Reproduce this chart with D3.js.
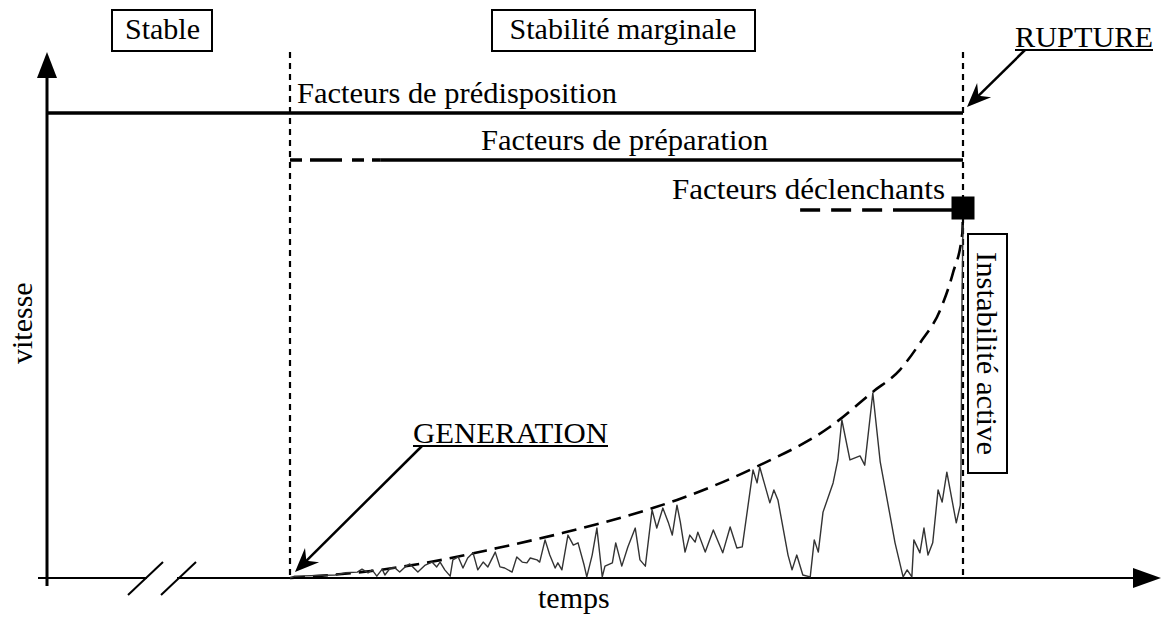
<!DOCTYPE html>
<html>
<head>
<meta charset="utf-8">
<script src="https://cdn.jsdelivr.net/npm/d3@7"></script>
<style>
  html, body { margin: 0; background: #fff; }
  svg { display: block; font-family: "Liberation Serif", "Times New Roman", serif; }
</style>
</head>
<body>
<div id="chart"></div>
<script>
// phases (boxed labels)
const phases = ["Stable", "Stabilité marginale", "Instabilité active"];

// factor bars: time span, and part drawn dashed (time units, 0 = génération, 100 = rupture)
const factors = [
  { label: "Facteurs de prédisposition", start: -36.1, end: 100, dashedTo: null },
  { label: "Facteurs de préparation", start: 0, end: 100, dashedTo: 13.4 },
  { label: "Facteurs déclenchants", start: 75.8, end: 100, dashedTo: 89.6 },
];

const events = ["GENERATION", "RUPTURE"];
const axisLabels = { x: "temps", y: "vitesse" };

// envelope (dashed curve) : [temps, vitesse]
const envelope = [
  [0, 0], [13.4, 2.2], [20.8, 4.3], [30.8, 8.1], [40.6, 12.2], [53.9, 18.9],
  [57.5, 21.1], [69.8, 30.5], [80.2, 40.8], [86.6, 50.3], [90.6, 56.2],
  [93.6, 63.5], [96.6, 72.4], [98.5, 82.4], [99.9, 93.2], [100, 100],
];

// measured velocity (jagged line) : [temps, vitesse]
const velocity = [
  [0, 0], [0.7, 0.5], [6.7, 0.8], [8.2, 1.4], [10.0, 1.6], [10.7, 2.4], [11.6, 1.4],
  [12.2, 2.2], [12.9, 0.5], [13.7, 2.4], [14.1, 0.8], [14.9, 2.7], [15.6, 2.7],
  [16.3, 1.6], [17.1, 3.0], [17.8, 3.8], [19.0, 1.6], [20.1, 3.5], [21.1, 4.3],
  [21.8, 3.0], [22.3, 4.3], [23.0, 2.2], [23.8, 0.5], [24.2, 4.9], [25.0, 5.7],
  [25.7, 2.7], [26.4, 5.4], [27.2, 6.8], [27.9, 2.2], [28.7, 4.3], [29.4, 3.0],
  [30.5, 7.0], [31.2, 3.0], [31.9, 2.7], [33.0, 1.6], [33.7, 5.7], [34.5, 4.3],
  [35.2, 4.1], [35.7, 5.4], [36.7, 4.9], [37.1, 4.3], [37.9, 10.3], [38.6, 6.2],
  [39.4, 2.7], [39.8, 4.1], [40.4, 2.2], [41.3, 11.6], [42.1, 8.9], [42.8, 9.5],
  [43.7, 3.5], [44.1, 0.3], [44.9, 6.2], [45.6, 13.5], [46.4, 0.3], [46.8, 3.2],
  [47.9, 4.1], [48.4, 9.5], [49.3, 3.2], [50.2, 8.4], [51.3, 13.5], [52.0, 4.9],
  [52.8, 3.2], [53.8, 18.4], [54.5, 13.5], [55.4, 18.9], [56.2, 15.1], [56.8, 11.6],
  [57.5, 19.7], [58.0, 15.1], [58.7, 7.0], [59.4, 11.6], [60.2, 9.7], [60.6, 12.4],
  [61.7, 7.0], [62.9, 13.0], [64.3, 6.8], [65.4, 13.8], [66.4, 8.1], [67.2, 8.4],
  [68.8, 29.2], [69.4, 25.7], [69.8, 30.0], [71.3, 20.3], [71.9, 23.8], [72.5, 21.1],
  [74.0, 6.2], [74.6, 2.2], [75.3, 6.2], [76.2, 0.8], [77.3, 0.3], [77.9, 10.3],
  [78.5, 7.0], [79.2, 17.8], [80.7, 25.7], [81.4, 31.9], [82.0, 42.7], [83.2, 31.9],
  [84.7, 33.0], [85.4, 30.5], [86.6, 50.0], [87.7, 31.4], [89.2, 16.5], [89.9, 9.5],
  [91.1, 0.3], [91.7, 2.2], [92.4, 0.3], [92.7, 10.3], [93.6, 6.8], [94.2, 13.5],
  [94.8, 6.2], [95.5, 9.5], [96.3, 23.8], [96.9, 20.5], [97.6, 28.6], [99.0, 14.9],
  [99.6, 19.7], [99.7, 29.2], [99.85, 75.1], [100, 95.4],
];

const width = 1164;
const height = 622;

const x = d3.scaleLinear().domain([0, 100]).range([290, 963]);
const y = d3.scaleLinear().domain([0, 100]).range([578, 208]);

const originX = 47;
const axisTop = 52;
const axisRight = 1161;
const fontSize = 30;

const svg = d3.select("#chart").append("svg")
  .attr("width", width)
  .attr("height", height)
  .attr("viewBox", [0, 0, width, height]);

function arrowHead(x1, y1, x2, y2, len, half, notch) {
  const dx = x2 - x1, dy = y2 - y1;
  const l = Math.hypot(dx, dy);
  const ux = dx / l, uy = dy / l, nx = -uy, ny = ux;
  const bx = x2 - ux * len, by = y2 - uy * len;
  const cx = x2 - ux * (len - notch), cy = y2 - uy * (len - notch);
  return `M${x2},${y2}L${bx + nx * half},${by + ny * half}L${cx},${cy}L${bx - nx * half},${by - ny * half}Z`;
}

// axes
const axes = svg.append("g").attr("stroke", "#000").attr("fill", "none");
axes.append("line")
  .attr("x1", originX).attr("x2", originX)
  .attr("y1", y(0) + 8).attr("y2", axisTop + 20)
  .attr("stroke-width", 3);
axes.append("path")
  .attr("d", arrowHead(originX, y(0), originX, axisTop, 26, 10, 0))
  .attr("fill", "#000").attr("stroke", "none");

axes.append("line")
  .attr("x1", originX - 9).attr("x2", 147)
  .attr("y1", y(0)).attr("y2", y(0))
  .attr("stroke-width", 2.2);
axes.append("line")
  .attr("x1", 177).attr("x2", axisRight - 24)
  .attr("y1", y(0)).attr("y2", y(0))
  .attr("stroke-width", 2.2);
axes.append("path")
  .attr("d", arrowHead(originX, y(0), axisRight, y(0), 28, 10, 0))
  .attr("fill", "#000").attr("stroke", "none");

// axis break marks
axes.selectAll("line.break")
  .data([128, 161])
  .join("line")
  .attr("class", "break")
  .attr("x1", (d) => d).attr("y1", y(0) + 17)
  .attr("x2", (d) => d + 35).attr("y2", y(0) - 16)
  .attr("stroke-width", 2);

// phase limits (dotted verticals)
svg.append("g")
  .selectAll("line")
  .data([0, 100])
  .join("line")
  .attr("x1", (d) => x(d)).attr("x2", (d) => x(d))
  .attr("y1", axisTop).attr("y2", y(0))
  .attr("stroke", "#000")
  .attr("stroke-width", 2.2)
  .attr("stroke-dasharray", "6,5");

// factor bars
const factorY = [113, 160, 210];
const fg = svg.append("g").attr("stroke", "#000").attr("stroke-width", 3.6).attr("fill", "none");
factors.forEach((f, i) => {
  const x0 = f.start < 0 ? originX : x(f.start);
  const xd = f.dashedTo == null ? x0 : x(f.dashedTo);
  if (f.dashedTo != null) {
    fg.append("line")
      .attr("x1", x0).attr("x2", xd)
      .attr("y1", factorY[i]).attr("y2", factorY[i])
      .attr("stroke-dasharray", i === 1 ? "12,8,32,10" : "20,11");
  }
  fg.append("line")
    .attr("x1", xd).attr("x2", x(f.end))
    .attr("y1", factorY[i]).attr("y2", factorY[i]);
});

// rupture square
svg.append("rect")
  .attr("x", x(100) - 11.5).attr("y", y(100) - 11.5)
  .attr("width", 23).attr("height", 23)
  .attr("fill", "#000");

// envelope
svg.append("path")
  .datum(envelope)
  .attr("fill", "none")
  .attr("stroke", "#000")
  .attr("stroke-width", 2.6)
  .attr("stroke-dasharray", "15,8")
  .attr("d", d3.line().x((d) => x(d[0])).y((d) => y(d[1])).curve(d3.curveMonotoneX));

// velocity
svg.append("path")
  .datum(velocity)
  .attr("fill", "none")
  .attr("stroke", "#333")
  .attr("stroke-width", 1.4)
  .attr("stroke-linejoin", "round")
  .attr("d", d3.line().x((d) => x(d[0])).y((d) => y(d[1])));

// phase boxes
const boxes = [
  { x: 112, y: 10, w: 100, h: 41 },
  { x: 492, y: 10, w: 263, h: 41 },
  { x: 968, y: 234, w: 39, h: 239 },
];
svg.append("g")
  .selectAll("rect")
  .data(boxes)
  .join("rect")
  .attr("x", (d) => d.x).attr("y", (d) => d.y)
  .attr("width", (d) => d.w).attr("height", (d) => d.h)
  .attr("fill", "#fff").attr("stroke", "#000").attr("stroke-width", 2);

const textG = svg.append("g").attr("fill", "#000").attr("font-size", fontSize);

// factor labels
const factorLabelPos = [
  { x: 297, y: 103, w: 320 },
  { x: 481, y: 150, w: 287 },
  { x: 672, y: 199, w: 273 },
];
textG.selectAll("text.factor")
  .data(factors)
  .join("text")
  .attr("class", "factor")
  .attr("x", (d, i) => factorLabelPos[i].x)
  .attr("y", (d, i) => factorLabelPos[i].y)
  .attr("textLength", (d, i) => factorLabelPos[i].w)
  .attr("lengthAdjust", "spacingAndGlyphs")
  .text((d) => d.label);

textG.append("text")
  .attr("x", 125).attr("y", 39)
  .attr("textLength", 75).attr("lengthAdjust", "spacingAndGlyphs")
  .text(phases[0]);
textG.append("text")
  .attr("x", 623).attr("y", 39)
  .attr("text-anchor", "middle")
  .text(phases[1]);
textG.append("text")
  .attr("transform", "translate(977,252) rotate(90)")
  .attr("textLength", 203).attr("lengthAdjust", "spacingAndGlyphs")
  .text(phases[2]);

// events with arrows
const eventPos = [
  { x: 413, y: 443, w: 195, from: [422, 446], to: [295, 572] },
  { x: 1015, y: 47, w: 138, from: [1025, 50], to: [967, 107] },
];
events.forEach((e, i) => {
  const p = eventPos[i];
  textG.append("text")
    .attr("x", p.x).attr("y", p.y)
    .attr("textLength", p.w).attr("lengthAdjust", "spacingAndGlyphs")
    .text(e);
  svg.append("line")
    .attr("x1", p.x).attr("x2", p.x + p.w)
    .attr("y1", p.y + 3).attr("y2", p.y + 3)
    .attr("stroke", "#000").attr("stroke-width", 2);
  const [x1, y1] = p.from, [x2, y2] = p.to;
  const dx = x2 - x1, dy = y2 - y1, l = Math.hypot(dx, dy);
  svg.append("line")
    .attr("x1", x1).attr("y1", y1)
    .attr("x2", x2 - (dx / l) * 12).attr("y2", y2 - (dy / l) * 12)
    .attr("stroke", "#000").attr("stroke-width", 2.5);
  svg.append("path")
    .attr("d", arrowHead(x1, y1, x2, y2, 24, 10, 8))
    .attr("fill", "#000");
});

// axis titles
textG.append("text")
  .attr("x", 538).attr("y", 608)
  .text(axisLabels.x);
textG.append("text")
  .attr("transform", "translate(32,364) rotate(-90)")
  .text(axisLabels.y);
</script>
</body>
</html>
